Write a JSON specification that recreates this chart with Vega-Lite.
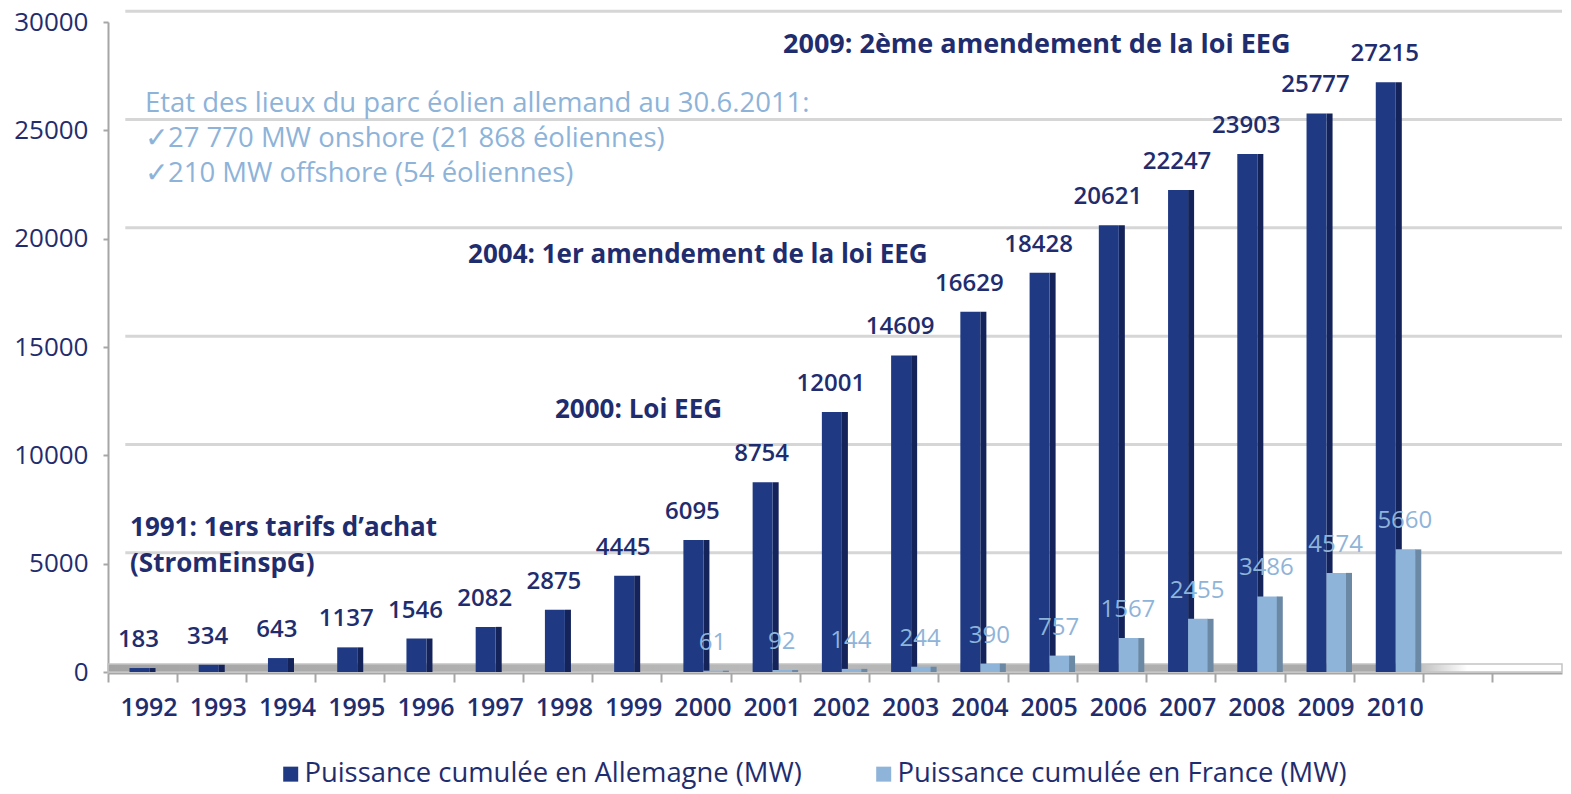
{
  "$schema": "https://vega.github.io/schema/vega-lite/v6.json",
  "width": 1454,
  "height": 650,
  "autosize": {"type": "none"},
  "padding": {"left": 108, "top": 22, "right": 9, "bottom": 122},
  "background": "white",
  "config": {
    "view": {"stroke": null},
    "font": "Open Sans",
    "text": {"font": "Open Sans"}
  },
  "datasets": {
    "bars": [
      {"year": "1992", "pays": "Allemagne", "mw": 183},
      {"year": "1993", "pays": "Allemagne", "mw": 334},
      {"year": "1994", "pays": "Allemagne", "mw": 643},
      {"year": "1995", "pays": "Allemagne", "mw": 1137},
      {"year": "1996", "pays": "Allemagne", "mw": 1546},
      {"year": "1997", "pays": "Allemagne", "mw": 2082},
      {"year": "1998", "pays": "Allemagne", "mw": 2875},
      {"year": "1999", "pays": "Allemagne", "mw": 4445},
      {"year": "2000", "pays": "Allemagne", "mw": 6095},
      {"year": "2001", "pays": "Allemagne", "mw": 8754},
      {"year": "2002", "pays": "Allemagne", "mw": 12001},
      {"year": "2003", "pays": "Allemagne", "mw": 14609},
      {"year": "2004", "pays": "Allemagne", "mw": 16629},
      {"year": "2005", "pays": "Allemagne", "mw": 18428},
      {"year": "2006", "pays": "Allemagne", "mw": 20621},
      {"year": "2007", "pays": "Allemagne", "mw": 22247},
      {"year": "2008", "pays": "Allemagne", "mw": 23903},
      {"year": "2009", "pays": "Allemagne", "mw": 25777},
      {"year": "2010", "pays": "Allemagne", "mw": 27215},
      {"year": "2000", "pays": "France", "mw": 61},
      {"year": "2001", "pays": "France", "mw": 92},
      {"year": "2002", "pays": "France", "mw": 144},
      {"year": "2003", "pays": "France", "mw": 244},
      {"year": "2004", "pays": "France", "mw": 390},
      {"year": "2005", "pays": "France", "mw": 757},
      {"year": "2006", "pays": "France", "mw": 1567},
      {"year": "2007", "pays": "France", "mw": 2455},
      {"year": "2008", "pays": "France", "mw": 3486},
      {"year": "2009", "pays": "France", "mw": 4574},
      {"year": "2010", "pays": "France", "mw": 5660}
    ],
    "notes": [
      {"id": "a2009", "year": "2001", "mw": 28570, "text": "2009: 2ème amendement de la loi EEG"},
      {"id": "etat", "year": "1992", "mw": 25846, "text": "Etat des lieux du parc éolien allemand au 30.6.2011:"},
      {"id": "etat", "year": "1992", "mw": 24231, "text": "✓27 770 MW onshore (21 868 éoliennes)"},
      {"id": "etat", "year": "1992", "mw": 22615, "text": "✓210 MW offshore (54 éoliennes)"},
      {"id": "a2004", "year": "1997", "mw": 18877, "text": "2004: 1er amendement de la loi EEG"},
      {"id": "a2000", "year": "1998", "mw": 11723, "text": "2000: Loi EEG"},
      {"id": "a1991", "year": "1992", "mw": 6277, "text": "1991: 1ers tarifs d’achat"},
      {"id": "a1991", "year": "1992", "mw": 4615, "text": "(StromEinspG)"}
    ],
    "grid": [
      {"g": 5000}, {"g": 10000}, {"g": 15000}, {"g": 20000}, {"g": 25000}, {"g": 30000}
    ]
  },
  "resolve": {"scale": {"y": "independent"}},
  "layer": [
    {
      "data": {"name": "grid"},
      "mark": {"type": "rule", "color": "#d6d6d6", "strokeWidth": 3},
      "encoding": {
        "y": {"field": "g", "type": "quantitative", "scale": {"domain": [-500, 29500]}, "axis": null},
        "x": {"datum": "1992", "bandPosition": 0.25},
        "x2": {"datum": "2012", "bandPosition": 1}
      }
    },
    {
      "layer": [
        {
          "data": {"values": [{}]},
          "mark": {
            "type": "rect",
            "stroke": "#c4c4c4",
            "strokeWidth": 1.5,
            "fill": {
              "gradient": "linear",
              "x1": 0, "y1": 0, "x2": 1, "y2": 0,
              "stops": [
                {"offset": 0, "color": "#a4a4a4"},
                {"offset": 0.45, "color": "#b9b9b9"},
                {"offset": 0.89, "color": "#a8a8a8"},
                {"offset": 0.935, "color": "#ffffff"},
                {"offset": 1, "color": "#ffffff"}
              ]
            }
          },
          "encoding": {
            "x": {"datum": "1992", "bandPosition": 0},
            "x2": {"datum": "2012", "bandPosition": 1},
            "y": {"datum": 0},
            "y2": {"datum": 370}
          }
        },
        {
          "data": {"name": "bars"},
          "transform": [{"filter": "datum.pays == 'Allemagne'"}],
          "mark": {"type": "rule", "color": "#14245a", "strokeWidth": 6, "strokeCap": "butt"},
          "encoding": {
            "x": {"field": "year", "type": "nominal", "bandPosition": 0.643},
            "y": {"field": "mw", "type": "quantitative"},
            "y2": {"datum": 0}
          }
        },
        {
          "data": {"name": "bars"},
          "mark": {"type": "bar"},
          "encoding": {
            "x": {
              "field": "year",
              "type": "nominal",
              "scale": {
                "domain": ["1992","1993","1994","1995","1996","1997","1998","1999","2000","2001","2002","2003","2004","2005","2006","2007","2008","2009","2010","2011","2012"],
                "paddingInner": 0,
                "paddingOuter": 0
              },
              "axis": {
                "title": null,
                "labelAngle": 0,
                "labelExpr": "toNumber(datum.value) > 2010 ? '' : datum.label",
                "bandPosition": 0,
                "labelOffset": 35,
                "labelFont": "Open Sans",
                "labelFontSize": 25,
                "labelFontWeight": 600,
                "labelColor": "#1f2d6e",
                "labelPadding": 25,
                "domainColor": "#a6a6a6",
                "domainWidth": 2,
                "tickColor": "#a6a6a6",
                "tickWidth": 2,
                "tickSize": 9,
                "offset": 1,
                "grid": false
              }
            },
            "xOffset": {
              "field": "pays",
              "type": "nominal",
              "scale": {"domain": ["Allemagne", "France"], "paddingInner": 0, "paddingOuter": 0.731, "align": 0.735}
            },
            "y": {
              "field": "mw",
              "type": "quantitative",
              "scale": {"domain": [0, 30000]},
              "axis": {
                "title": null,
                "values": [0, 5000, 10000, 15000, 20000, 25000, 30000],
                "format": "d",
                "grid": false,
                "labelFont": "Open Sans",
                "labelFontSize": 26,
                "labelFontWeight": 500,
                "labelColor": "#1f2d6e",
                "labelPadding": 15,
                "domainColor": "#a6a6a6",
                "domainWidth": 2,
                "tickColor": "#a6a6a6",
                "tickWidth": 2,
                "tickSize": 5
              }
            },
            "color": {
              "field": "pays",
              "type": "nominal",
              "scale": {"domain": ["Allemagne", "France"], "range": ["#1f3a83", "#8fb4d9"]},
              "legend": {
                "title": null,
                "orient": "none",
                "legendX": 169,
                "legendY": 738,
                "direction": "horizontal",
                "labelExpr": "'Puissance cumulée en ' + datum.label + ' (MW)'",
                "symbolType": "square",
                "symbolSize": 225,
                "symbolStrokeWidth": 0,
                "labelFont": "Open Sans",
                "labelFontSize": 27.4,
                "labelColor": "#1f2d6e",
                "labelOffset": 0,
                "columnPadding": 68,
                "padding": 0,
                "labelLimit": 800
              }
            }
          }
        },
        {
          "data": {"name": "bars"},
          "transform": [{"filter": "datum.pays == 'France'"}],
          "mark": {"type": "rule", "color": "#6b88a5", "strokeWidth": 6, "strokeCap": "butt"},
          "encoding": {
            "x": {"field": "year", "type": "nominal", "bandPosition": 0.924},
            "y": {"field": "mw", "type": "quantitative"},
            "y2": {"datum": 0}
          }
        },
        {
          "data": {"name": "bars"},
          "transform": [{"filter": "datum.pays == 'Allemagne'"}],
          "mark": {"type": "text", "font": "Open Sans", "fontSize": 24, "fontWeight": 600, "color": "#1f2d6e", "baseline": "alphabetic", "align": "center", "dy": -21},
          "encoding": {
            "x": {"field": "year", "type": "nominal", "bandPosition": 0.44},
            "y": {"field": "mw", "type": "quantitative"},
            "text": {"field": "mw", "type": "quantitative", "format": "d"}
          }
        },
        {
          "data": {"name": "bars"},
          "transform": [{"filter": "datum.pays == 'France'"}],
          "mark": {"type": "text", "font": "Open Sans", "fontSize": 24, "fontWeight": 400, "color": "#8fb4d9", "baseline": "alphabetic", "align": "center", "dy": -21},
          "encoding": {
            "x": {"field": "year", "type": "nominal", "bandPosition": 0.73},
            "y": {"field": "mw", "type": "quantitative"},
            "text": {"field": "mw", "type": "quantitative", "format": "d"}
          }
        },
        {
          "data": {"name": "notes"},
          "transform": [{"filter": "datum.id == 'a2009'"}],
          "mark": {"type": "text", "font": "Open Sans", "fontSize": 27, "fontWeight": 700, "color": "#1f2d6e", "baseline": "alphabetic", "align": "left"},
          "encoding": {
            "x": {"field": "year", "type": "nominal", "bandPosition": 0.749},
            "y": {"field": "mw", "type": "quantitative"},
            "text": {"field": "text"}
          }
        },
        {
          "data": {"name": "notes"},
          "transform": [{"filter": "datum.id == 'a2004'"}],
          "mark": {"type": "text", "font": "Open Sans", "fontSize": 26, "fontWeight": 700, "color": "#1f2d6e", "baseline": "alphabetic", "align": "left"},
          "encoding": {
            "x": {"field": "year", "type": "nominal", "bandPosition": 0.2},
            "y": {"field": "mw", "type": "quantitative"},
            "text": {"field": "text"}
          }
        },
        {
          "data": {"name": "notes"},
          "transform": [{"filter": "datum.id == 'a2000'"}],
          "mark": {"type": "text", "font": "Open Sans", "fontSize": 26, "fontWeight": 700, "color": "#1f2d6e", "baseline": "alphabetic", "align": "left"},
          "encoding": {
            "x": {"field": "year", "type": "nominal", "bandPosition": 0.456},
            "y": {"field": "mw", "type": "quantitative"},
            "text": {"field": "text"}
          }
        },
        {
          "data": {"name": "notes"},
          "transform": [{"filter": "datum.id == 'a1991'"}],
          "mark": {"type": "text", "font": "Open Sans", "fontSize": 26, "fontWeight": 700, "color": "#1f2d6e", "baseline": "alphabetic", "align": "left"},
          "encoding": {
            "x": {"field": "year", "type": "nominal", "bandPosition": 0.318},
            "y": {"field": "mw", "type": "quantitative"},
            "text": {"field": "text"}
          }
        },
        {
          "data": {"name": "notes"},
          "transform": [{"filter": "datum.id == 'etat'"}],
          "mark": {"type": "text", "font": "Open Sans", "fontSize": 27.5, "fontWeight": 400, "color": "#8db3d9", "baseline": "alphabetic", "align": "left"},
          "encoding": {
            "x": {"field": "year", "type": "nominal", "bandPosition": 0.534},
            "y": {"field": "mw", "type": "quantitative"},
            "text": {"field": "text"}
          }
        }
      ]
    }
  ]
}
